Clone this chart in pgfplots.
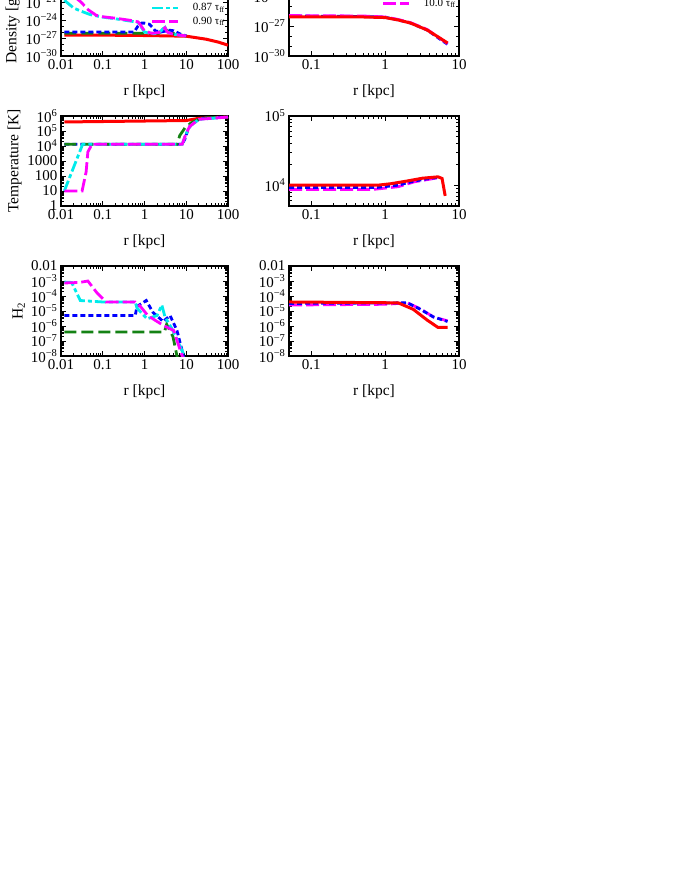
\documentclass[border=0pt]{standalone}
\usepackage{fontspec}
\setmainfont{Liberation Serif}
\usepackage{pgfplots}
\pgfplotsset{compat=1.18}
\definecolor{cgreen}{RGB}{20,130,20}
\definecolor{ccyan}{RGB}{0,235,235}
\definecolor{cmag}{RGB}{255,0,255}
\newcommand{\E}[1]{10\textsuperscript{−#1}}
\newcommand{\tff}{τ\textsubscript{ff}}
\pgfplotsset{
  every axis/.append style={
    scale only axis,
    axis line style={line width=1.4pt},
    tick style={line width=0.7pt, black},
    major tick length=5pt, minor tick length=3pt,
    tick align=inside,
    ticklabel style={font=\fontsize{15}{16}\selectfont},
    label style={font=\fontsize{15.5}{17}\selectfont},
    xlabel={r [kpc]},
    xlabel style={yshift=-8pt},
    ylabel style={yshift=-1pt},
    legend style={draw=none, fill=none, font=\fontsize{11}{13}\selectfont,
      row sep=0.5pt, inner sep=1pt},
    legend cell align=left,
    legend image code/.code={\draw[#1] (0pt,0pt) -- (26pt,0pt); \path (37pt,0pt);},
  },
}
\tikzset{
  mysred/.style={red, line width=3pt},
  mysgreen/.style={cgreen, line width=2.8pt, dash pattern=on 12pt off 5pt},
  mysblue/.style={blue, line width=2.8pt, dash pattern=on 5pt off 3pt},
  myscyan/.style={ccyan, line width=2.8pt, dash pattern=on 11pt off 3pt on 4pt off 3pt},
  mysmag/.style={cmag, line width=2.8pt, dash pattern=on 13pt off 4pt},
}
\begin{document}
\begin{tikzpicture}
\useasboundingbox (0,0) rectangle (680pt,-880pt);
\begin{scope}
\clip (0,0) rectangle (680pt,-880pt);
% ---------------- Density left
\begin{axis}[xmode=log, ymode=log, width=167pt, height=90pt, xmin=0.01, xmax=100,
  xtick={0.01,0.1,1,10,100}, xticklabels={0.01,0.1,1,10,100},
  at={(61pt,-56pt)}, anchor=south west,
  ymin=1e-30, ymax=1e-15,
  ytick={1e-30,1e-27,1e-24,1e-21,1e-18,1e-15},
  yticklabels={\E{30},\E{27},\E{24},\E{21},\E{18},\E{15}},
  minor ytick={1e-29,1e-28,1e-26,1e-25,1e-23,1e-22,1e-20,1e-19,1e-17,1e-16},
  ylabel={Density [g cm\textsuperscript{−3}]},
  legend style={at={(1,0.3)}, anchor=south east}]
\addlegendimage{mysred}\addlegendentry{0.50 \tff}
\addlegendimage{mysgreen}\addlegendentry{0.75 \tff}
\addlegendimage{mysblue}\addlegendentry{0.84 \tff}
\addlegendimage{myscyan}\addlegendentry{0.87 \tff}
\addlegendimage{mysmag}\addlegendentry{0.90 \tff}
\addplot[mysred, forget plot] coordinates {(0.012,3e-27) (0.1,3e-27) (1,2.6e-27) (3,2.3e-27) (10,2e-27) (30,6.3e-28) (60,2e-28) (100,6.3e-29)};
\addplot[mysgreen, forget plot] coordinates {(0.012,6.3e-27) (2.2,6.3e-27) (2.7,2e-26) (3.0,4e-26) (3.4,2e-26) (4,8e-27) (6,4e-27) (10,2.2e-27)};
\addplot[mysblue, forget plot] coordinates {(0.012,1e-26) (0.55,1e-26) (0.6,2e-26) (0.7,1e-25) (0.85,3e-25) (1.0,3e-25) (1.3,2e-25) (1.6,5e-26) (1.8,1.6e-26) (2.5,1e-26) (4,2e-26) (5,1.6e-26) (7,5e-27) (10,2.2e-27)};
\addplot[myscyan, forget plot] coordinates {(0.012,2e-21) (0.02,1e-22) (0.03,3e-23) (0.05,8e-24) (0.1,3e-24) (0.2,1.6e-24) (0.5,6e-25) (0.7,4e-25) (0.8,1e-25) (1.0,1e-26) (1.5,5e-27) (2.2,6e-27) (2.7,3e-26) (3.1,6e-26) (3.5,1e-26) (5,4e-27) (10,2.2e-27)};
\addplot[mysmag, forget plot] coordinates {(0.012,1e-18) (0.015,1e-19) (0.02,1e-20) (0.03,1e-21) (0.045,5e-23) (0.07,6e-24) (0.1,3.5e-24) (0.2,2e-24) (0.5,8e-25) (0.7,5e-25) (0.8,1.5e-25) (1.0,1.5e-26) (1.5,6e-27) (2.2,8e-27) (2.7,2.5e-26) (3.1,5e-26) (3.5,1e-26) (5,4e-27) (10,2.2e-27)};
\end{axis}
% ---------------- Density right
\begin{axis}[xmode=log, ymode=log, width=170pt, height=90pt, xmin=0.05, xmax=10,
  xtick={0.1,1,10}, xticklabels={0.1,1,10},
  at={(289pt,-56pt)}, anchor=south west,
  ymin=1e-30, ymax=1e-21,
  ytick={1e-30,1e-27,1e-24,1e-21},
  yticklabels={\E{30},\E{27},\E{24},\E{21}},
  minor ytick={1e-29,1e-28,1e-26,1e-25,1e-23,1e-22},
  legend style={at={(1,0.5)}, anchor=south east}]
\addlegendimage{mysred}\addlegendentry{1.0 \tff}
\addlegendimage{mysblue}\addlegendentry{5.0 \tff}
\addlegendimage{mysmag}\addlegendentry{10.0 \tff}
\addplot[mysblue, forget plot] coordinates {(0.05,1e-26) (0.5,9e-27) (1.0,7.5e-27) (1.5,4e-27) (2.2,2e-27) (3.7,4e-28) (5.5,5e-29) (7.0,1.5e-29)};
\addplot[mysmag, forget plot] coordinates {(0.05,1.1e-26) (0.5,1e-26) (1.0,8e-27) (1.5,4.5e-27) (2.2,2.2e-27) (3.7,4.5e-28) (5.5,6e-29) (7.0,1.8e-29)};
\addplot[mysred, forget plot] coordinates {(0.05,8e-27) (0.5,8e-27) (1.0,7e-27) (1.5,4e-27) (2.2,2e-27) (3.7,4e-28) (5.5,6.3e-29) (7.0,2e-29)};
\end{axis}
% ---------------- Temperature left
\begin{axis}[xmode=log, ymode=log, width=167pt, height=90pt, xmin=0.01, xmax=100,
  xtick={0.01,0.1,1,10,100}, xticklabels={0.01,0.1,1,10,100},
  at={(61pt,-206pt)}, anchor=south west,
  ymin=1, ymax=1e6,
  ytick={1,10,100,1000,1e4,1e5,1e6},
  yticklabels={1,10,100,1000,10\textsuperscript{4},10\textsuperscript{5},10\textsuperscript{6}},
  ylabel={Temperature [K]}]
\addplot[mysred] coordinates {(0.012,4e5) (10,5e5) (20,7e5) (31,7.5e5) (100,8.5e5)};
\addplot[mysblue] coordinates {(0.012,1.3e4) (8,1.3e4) (9.3,3e4) (11,1.2e5) (13,2.5e5) (20,6e5) (31,7.5e5) (100,8.5e5)};
\addplot[mysgreen] coordinates {(0.012,1.3e4) (6,1.3e4) (7,5e4) (9.3,1.6e5) (13,3.4e5) (20,6e5) (31,7.5e5) (100,8.5e5)};
\addplot[myscyan] coordinates {(0.012,10) (0.033,1.3e4) (8,1.3e4) (9.5,5e4) (12,2e5) (20,6e5) (100,8.5e5)};
\addplot[mysmag] coordinates {(0.012,10) (0.032,10) (0.04,190) (0.044,4000) (0.055,1.3e4) (8,1.3e4) (9.5,5e4) (12,2e5) (20,6e5) (100,8.5e5)};
\end{axis}
% ---------------- Temperature right
\begin{axis}[xmode=log, ymode=log, width=170pt, height=90pt, xmin=0.05, xmax=10,
  xtick={0.1,1,10}, xticklabels={0.1,1,10},
  at={(289pt,-206pt)}, anchor=south west,
  ymin=5000, ymax=1e5,
  ytick={1e4,1e5}, yticklabels={10\textsuperscript{4},10\textsuperscript{5}},
  minor ytick={6000,7000,8000,9000,2e4,3e4,4e4,5e4,6e4,7e4,8e4,9e4}]
\addplot[mysmag] coordinates {(0.05,8.7e3) (0.7,8.7e3) (1.5,9.5e3) (2.5,1.12e4) (4,1.22e4) (5.5,1.3e4)};
\addplot[mysblue] coordinates {(0.05,9.3e3) (0.8,9.3e3) (1.5,1e4) (2.5,1.15e4) (4,1.25e4) (5.5,1.3e4)};
\addplot[mysred] coordinates {(0.05,1e4) (0.8,1e4) (1.2,1.05e4) (2.0,1.15e4) (3.2,1.26e4) (5.2,1.32e4) (5.9,1.25e4) (6.5,7e3)};
\end{axis}
% ---------------- H2 left
\begin{axis}[xmode=log, ymode=log, width=167pt, height=90pt, xmin=0.01, xmax=100,
  xtick={0.01,0.1,1,10,100}, xticklabels={0.01,0.1,1,10,100},
  at={(61pt,-356pt)}, anchor=south west,
  ymin=1e-8, ymax=1e-2,
  ytick={1e-8,1e-7,1e-6,1e-5,1e-4,1e-3,1e-2},
  yticklabels={\E{8},\E{7},\E{6},\E{5},\E{4},\E{3},0.01},
  ylabel={H\textsubscript{2}}]
\addplot[mysgreen] coordinates {(0.012,4e-7) (3,4e-7) (3.4,1.3e-6) (4.8,2e-7) (6,1e-8) (6.5,5e-9)};
\addplot[mysblue] coordinates {(0.012,5e-6) (0.6,5e-6) (0.66,2e-5) (1.1,5e-5) (1.6,8e-6) (2.8,2e-6) (4.1,5e-6) (6,5e-7) (7.9,2.5e-8) (9,5e-9)};
\addplot[myscyan] coordinates {(0.012,8.5e-4) (0.018,8e-4) (0.029,5e-5) (0.1,4e-5) (0.6,4e-5) (0.66,1.6e-5) (1.15,3e-6) (2,5e-6) (2.6,2.5e-5) (3.1,4e-6) (4.8,5e-7) (8.4,1.6e-8) (9,5e-9)};
\addplot[mysmag] coordinates {(0.012,7.4e-4) (0.028,8e-4) (0.044,1e-3) (0.073,1.6e-4) (0.12,4e-5) (0.6,4e-5) (0.8,2e-5) (1.2,5e-6) (2,2e-6) (3,1e-6) (5,5e-7) (8,1e-8) (8.5,5e-9)};
\end{axis}
% ---------------- H2 right
\begin{axis}[xmode=log, ymode=log, width=170pt, height=90pt, xmin=0.05, xmax=10,
  xtick={0.1,1,10}, xticklabels={0.1,1,10},
  at={(289pt,-356pt)}, anchor=south west,
  ymin=1e-8, ymax=1e-2,
  ytick={1e-8,1e-7,1e-6,1e-5,1e-4,1e-3,1e-2},
  yticklabels={\E{8},\E{7},\E{6},\E{5},\E{4},\E{3},0.01}]
\addplot[mysmag] coordinates {(0.05,2.5e-5) (1.0,2.8e-5) (2.0,3.5e-5) (3.0,1.4e-5) (4.5,4e-6) (7,2.2e-6)};
\addplot[mysblue] coordinates {(0.05,3.2e-5) (2.0,3.5e-5) (3.0,1.3e-5) (4.5,4e-6) (7,2e-6)};
\addplot[mysred] coordinates {(0.05,4e-5) (1.5,3.5e-5) (2.4,1.3e-5) (3.7,2.5e-6) (5.2,8e-7) (7,8e-7)};
\end{axis}
\end{scope}
\end{tikzpicture}
\end{document}
